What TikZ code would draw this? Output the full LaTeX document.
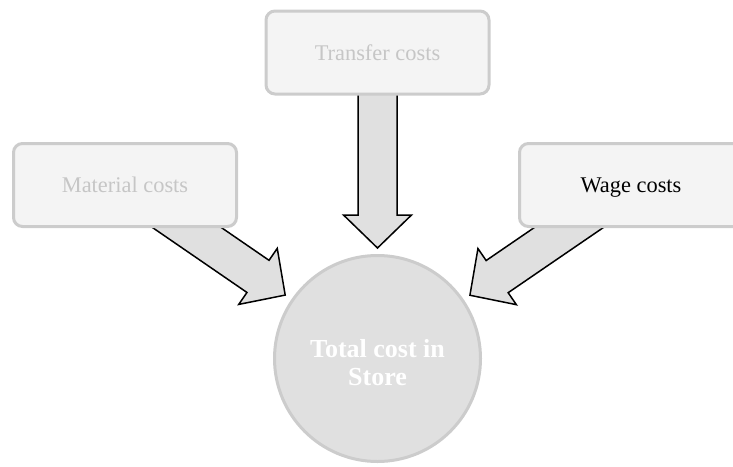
\documentclass[tikz,border=0pt]{standalone}
\usepackage{fontspec}
\setmainfont{Liberation Serif}
\usetikzlibrary{calc,backgrounds}

\definecolor{boxfill}{HTML}{F4F4F4}
\definecolor{boxline}{HTML}{CCCCCC}
\definecolor{fadetext}{HTML}{C6C6C6}
\definecolor{arrowfill}{HTML}{E0E0E0}
\definecolor{discfill}{HTML}{E0E0E0}

\tikzset{
  costbox/.style={draw=boxline, line width=3pt, fill=boxfill, rounded corners=9pt,
    minimum width=223pt, minimum height=83pt, inner sep=0pt,
    text height=15pt, text depth=0pt,
    font=\fontsize{22.4}{27}\selectfont},
  fadedlabel/.style={text=fadetext},
  totaldisc/.style={circle, draw=boxline, line width=3pt, fill=discfill,
    minimum size=206pt, inner sep=0pt},
  totallabel/.style={text=white, align=center, inner sep=0pt,
    font=\fontsize{26}{28}\selectfont\bfseries},
  bigarrow/.style={draw=black, line width=1.5pt, fill=arrowfill, line join=miter},
}

% Broad block arrow from #1 with its tip at #2
\newcommand\blockarrow[2]{%
  \coordinate (ba-h) at ($(#2)!33pt!(#1)$);
  \draw[bigarrow]
    ($(#1)!19.5pt!90:(#2)$) -- ($(ba-h)!19.5pt!90:(#2)$) --
    ($(ba-h)!34pt!90:(#2)$) -- (#2) --
    ($(ba-h)!34pt!-90:(#2)$) -- ($(ba-h)!19.5pt!-90:(#2)$) --
    ($(#1)!19.5pt!-90:(#2)$) -- cycle;
}

\begin{document}
\begin{tikzpicture}[x=1pt, y=-1pt]
  \clip (0,0) rectangle (733,466);

  % cost items
  \node[costbox, fadedlabel] (transfer) at (377.5,52.5) {Transfer costs};
  \node[costbox, fadedlabel] (material) at (125,185) {Material costs};
  \node[costbox] (wage) at (631,185) {Wage costs};

  % total
  \node[totaldisc] (total) at (377.5,358.5) {};
  \node[totallabel] (totaltext) at ([yshift=-4pt]total.center) {Total cost in\\Store};

  % arrow tips, just outside the disc
  \coordinate (tipT) at ($(total.center)!110.5pt!(transfer.center)$);
  \coordinate (tipM) at ($(total.center)!112pt!(material.center)$);
  \coordinate (tipW) at ($(total.center)!112pt!(wage.center)$);

  \begin{scope}[on background layer]
    \blockarrow{transfer.center}{tipT}
    \blockarrow{material.center}{tipM}
    \blockarrow{wage.center}{tipW}
  \end{scope}
\end{tikzpicture}
\end{document}
